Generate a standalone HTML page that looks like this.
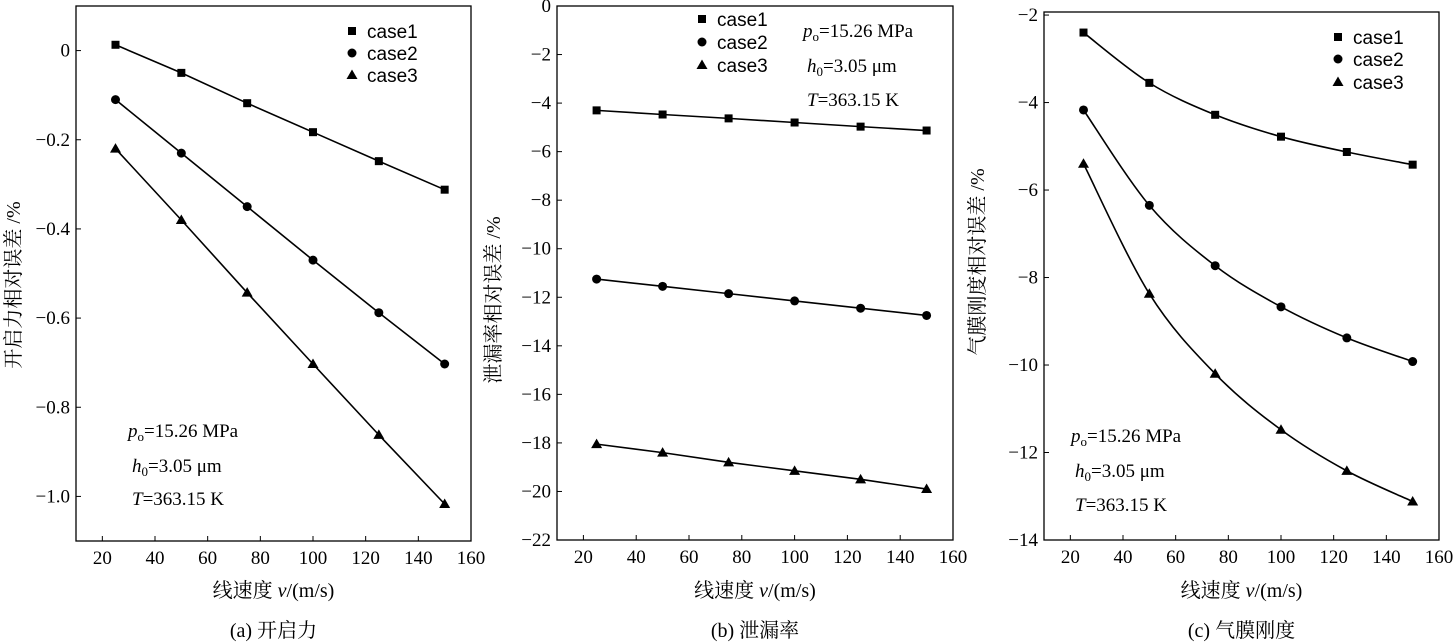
<!DOCTYPE html>
<html><head><meta charset="utf-8">
<style>
body{margin:0;background:#fff;}
svg{display:block;font-family:"Liberation Serif","Noto Serif CJK SC","Noto Sans CJK SC",serif;}
</style></head>
<body>
<svg id="chart" width="1455" height="642" viewBox="0 0 1455 642" xmlns="http://www.w3.org/2000/svg"></svg>
<script>
const speeds = [25, 50, 75, 100, 125, 150];
const xTicks = [20, 40, 60, 80, 100, 120, 140, 160];
const caseNames = ["case1", "case2", "case3"];

const aCase1 = [0.013, -0.05, -0.118, -0.183, -0.248, -0.312];
const aCase2 = [-0.11, -0.23, -0.35, -0.47, -0.588, -0.703];
const aCase3 = [-0.22, -0.38, -0.543, -0.703, -0.862, -1.017];
const aYTicks = [0, -0.2, -0.4, -0.6, -0.8, -1.0];
const aYLabels = ["0", "\u22120.2", "\u22120.4", "\u22120.6", "\u22120.8", "\u22121.0"];

const bCase1 = [-4.3, -4.47, -4.63, -4.8, -4.97, -5.13];
const bCase2 = [-11.25, -11.55, -11.85, -12.15, -12.45, -12.75];
const bCase3 = [-18.05, -18.4, -18.8, -19.15, -19.5, -19.9];
const bYTicks = [0, -2, -4, -6, -8, -10, -12, -14, -16, -18, -20, -22];

const cCase1 = [-2.4, -3.55, -4.28, -4.78, -5.13, -5.42];
const cCase2 = [-4.17, -6.35, -7.73, -8.67, -9.38, -9.92];
const cCase3 = [-5.4, -8.37, -10.2, -11.48, -12.42, -13.12];
const cYTicks = [-2, -4, -6, -8, -10, -12, -14];

const NS = "http://www.w3.org/2000/svg";
const svg = document.getElementById("chart");
function mk(tag, attrs, parent) {
  const e = document.createElementNS(NS, tag);
  for (const k in attrs) e.setAttribute(k, attrs[k]);
  (parent || svg).appendChild(e);
  return e;
}
function marker(g, kind, x, y) {
  let m;
  if (kind === 0) m = mk("rect", {x: x - 4, y: y - 4, width: 8, height: 8, fill: "#000"}, g);
  else if (kind === 1) m = mk("circle", {cx: x, cy: y, r: 4.5, fill: "#000"}, g);
  else m = mk("polygon", {points: `${x},${y - 5.5} ${x - 5.5},${y + 4} ${x + 5.5},${y + 4}`, fill: "#000"}, g);
  return m;
}
function smoothPath(pts) {
  let d = `M${pts[0][0]},${pts[0][1]}`;
  for (let i = 0; i < pts.length - 1; i++) {
    const p0 = pts[Math.max(0, i - 1)], p1 = pts[i], p2 = pts[i + 1], p3 = pts[Math.min(pts.length - 1, i + 2)];
    const c1x = p1[0] + (p2[0] - p0[0]) / 6, c1y = p1[1] + (p2[1] - p0[1]) / 6;
    const c2x = p2[0] - (p3[0] - p1[0]) / 6, c2y = p2[1] - (p3[1] - p1[1]) / 6;
    d += ` C${c1x},${c1y} ${c2x},${c2y} ${p2[0]},${p2[1]}`;
  }
  return d;
}

function panel(cfg) {
  const g = mk("g", {});
  
  
  const X = v => cfg.left + (v - 10) / 150 * (cfg.right - cfg.left);
  const Y = v => cfg.top + (cfg.ymax - v) / (cfg.ymax - cfg.ymin) * (cfg.bottom - cfg.top);
  const frame = mk("rect", {x: cfg.left, y: cfg.top, width: cfg.right - cfg.left, height: cfg.bottom - cfg.top, fill: "none", stroke: "#000", "stroke-width": 1.3}, g);
  
  
  xTicks.forEach(t => {
    const x = X(t);
    mk("line", {x1: x, x2: x, y1: cfg.bottom, y2: cfg.bottom - 5, stroke: "#000", "stroke-width": 1}, g);
    const tx = mk("text", {x: x, y: cfg.bottom + 23, "font-size": 19, "text-anchor": "middle"}, g);
    tx.textContent = t;
    
    
  });
  cfg.yTicks.forEach((t, i) => {
    const y = Y(t);
    mk("line", {x1: cfg.left, x2: cfg.left + 5, y1: y, y2: y, stroke: "#000", "stroke-width": 1}, g);
    const tx = mk("text", {x: cfg.left - 6, y: y + 6, "font-size": 19, "text-anchor": "end"}, g);
    tx.textContent = cfg.yLabels ? cfg.yLabels[i] : (t < 0 ? "\u2212" + Math.abs(t) : String(t));
    
    
  });
  cfg.series.forEach((vals, k) => {
    const pts = speeds.map((s, i) => [X(s), Y(vals[i])]);
    const p = mk("path", {d: cfg.smooth ? smoothPath(pts) : "M" + pts.map(p => p.join(",")).join(" L"), fill: "none", stroke: "#000", "stroke-width": 1.6}, g);
    
    
    pts.forEach(pt => {
      const m = marker(g, k, pt[0], pt[1]);
      
      
    });
  });
  caseNames.forEach((n, k) => {
    const y = cfg.legY[k];
    const m = marker(g, k, cfg.legX, y);
    
    
    const t = mk("text", {x: cfg.legX + 15, y: y + 7, "font-size": 19, "font-family": "Liberation Sans, sans-serif"}, g);
    t.textContent = n;
    
    
  });
  const ann = mk("g", {"font-size": 19}, g);
  
  
  const ax = cfg.annX, ay = cfg.annY;
  const t1 = mk("text", {x: ax, y: ay[0]}, ann);
  t1.innerHTML = '<tspan font-style="italic">p</tspan><tspan font-size="13" dy="4">o</tspan><tspan dy="-4">=15.26 MPa</tspan>';
  const t2 = mk("text", {x: ax + 4, y: ay[1]}, ann);
  t2.innerHTML = '<tspan font-style="italic">h</tspan><tspan font-size="13" dy="4">0</tspan><tspan dy="-4">=3.05 \u03bcm</tspan>';
  const t3 = mk("text", {x: ax + 4, y: ay[2]}, ann);
  t3.innerHTML = '<tspan font-style="italic">T</tspan>=363.15 K';
  const xt = mk("text", {x: (cfg.left + cfg.right) / 2, y: 597, "font-size": 20, "text-anchor": "middle"}, g);
  xt.innerHTML = '线速度 <tspan font-style="italic">v</tspan>/(m/s)';
  
  
  const yt = mk("text", {x: 0, y: 0, "font-size": 20, "text-anchor": "middle", transform: `translate(${cfg.ytX},${cfg.ytY}) rotate(-90)`}, g);
  yt.textContent = cfg.yTitle;
  
  
  const cap = mk("text", {x: (cfg.left + cfg.right) / 2, y: 637, "font-size": 20, "text-anchor": "middle"}, g);
  cap.textContent = cfg.caption;
  
  
}

panel({name: "panel-a-opening-force", left: 76, right: 471, top: 6, bottom: 541, ymax: 0.1, ymin: -1.1,
  yTicks: aYTicks, yLabels: aYLabels, series: [aCase1, aCase2, aCase3], smooth: false,
  legX: 352, legY: [31, 53, 75], annX: 128, annY: [437, 472, 505],
  ytX: 20, ytY: 285, yTitle: "开启力相对误差 /%", caption: "(a) 开启力"});
panel({name: "panel-b-leakage", left: 557, right: 953, top: 6, bottom: 540, ymax: 0, ymin: -22,
  yTicks: bYTicks, series: [bCase1, bCase2, bCase3], smooth: false,
  legX: 702, legY: [19, 42, 65], annX: 803, annY: [37, 72, 106],
  ytX: 500, ytY: 300, yTitle: "泄漏率相对误差 /%", caption: "(b) 泄漏率"});
panel({name: "panel-c-film-stiffness", left: 1044, right: 1439, top: 12, bottom: 540, ymax: -1.93, ymin: -14,
  yTicks: cYTicks, series: [cCase1, cCase2, cCase3], smooth: true,
  legX: 1338, legY: [37, 59, 82], annX: 1071, annY: [442, 477, 511],
  ytX: 984, ytY: 262, yTitle: "气膜刚度相对误差 /%", caption: "(c) 气膜刚度"});
</script>
</body></html>
